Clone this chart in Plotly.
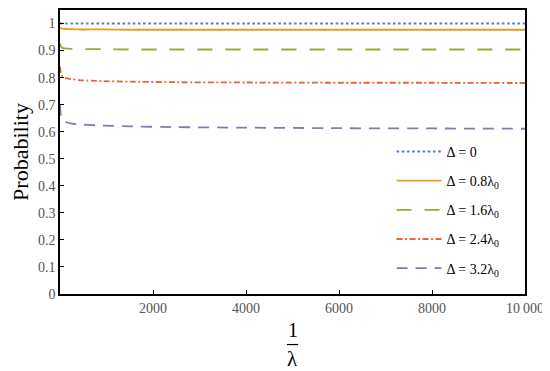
import plotly.graph_objects as go

# inverse lambda values (x axis)
inv_lambda = [1, 20, 50, 100, 150, 250, 400, 600, 900, 1500, 2500, 4000, 6000, 8000, 10000]

p_d0 = [1.0] * 15
p_d08 = [0.985, 0.983, 0.981, 0.980, 0.979, 0.979, 0.978, 0.978, 0.978, 0.977, 0.977, 0.977, 0.977, 0.977, 0.977]
p_d16 = [0.925, 0.915, 0.910, 0.908, 0.907, 0.906, 0.905, 0.905, 0.905, 0.904, 0.904, 0.904, 0.904, 0.904, 0.904]
p_d24 = [0.840, 0.815, 0.805, 0.800, 0.797, 0.794, 0.791, 0.789, 0.787, 0.785, 0.783, 0.782, 0.781, 0.781, 0.780]
p_d32 = [0.700, 0.660, 0.645, 0.638, 0.634, 0.630, 0.627, 0.625, 0.623, 0.620, 0.617, 0.615, 0.613, 0.612, 0.611]

series_names = ["Δ = 0", "Δ = 0.8λ<sub>0</sub>", "Δ = 1.6λ<sub>0</sub>",
                "Δ = 2.4λ<sub>0</sub>", "Δ = 3.2λ<sub>0</sub>"]
series_vals = [p_d0, p_d08, p_d16, p_d24, p_d32]
colors = ["#4F7BC7", "#E19C24", "#8FB032", "#EB6235", "#8778B3"]
widths = [2.0, 1.8, 1.8, 1.8, 1.8]
dashes = ["2.6px,2.6px", "solid", "15px,13px", "6px,2.5px,2px,2.5px", "11px,8px"]

y_ticks = [0, 0.1, 0.2, 0.3, 0.4, 0.5, 0.6, 0.7, 0.8, 0.9, 1.0]
y_ticktext = ["0", "0.1", "0.2", "0.3", "0.4", "0.5", "0.6", "0.7", "0.8", "0.9", "1"]
x_ticks = [2000, 4000, 6000, 8000, 10000]
x_ticktext = ["2000", "4000", "6000", "8000", "10\u2009000"]

SERIF = "Liberation Serif"

fig = go.Figure()
for i, (name, vals) in enumerate(zip(series_names, series_vals)):
    fig.add_trace(go.Scatter(
        x=inv_lambda, y=vals, mode="lines", name=name,
        line=dict(color=colors[i], width=widths[i], dash=dashes[i], shape="spline", smoothing=0.6),
        legendgroup=str(i),
    ))

# the page body has an 8px margin, so the figure is 8px smaller and margins compensate
fig.update_layout(
    width=542, height=363,
    margin=dict(l=52, r=25, t=0, b=77),
    paper_bgcolor="white", plot_bgcolor="white",
    font=dict(family=SERIF, size=13, color="#555555"),
    showlegend=True,
    legend=dict(
        x=0.713, y=0.557, xanchor="left", yanchor="top",
        bgcolor="rgba(0,0,0,0)", traceorder="grouped", tracegroupgap=8,
        font=dict(family=SERIF, size=14, color="black"),
        itemwidth=45,
    ),
    xaxis=dict(
        range=[0, 10000], tickvals=x_ticks, ticktext=x_ticktext,
        showgrid=False, zeroline=False, showline=True, linecolor="black", linewidth=1.5,
        mirror=True, ticks="inside", ticklen=4, tickcolor="black", tickwidth=1.2,
        tickfont=dict(family=SERIF, size=14, color="#555555"),
    ),
    yaxis=dict(
        range=[0, 1.05], tickvals=y_ticks, ticktext=y_ticktext,
        showgrid=False, zeroline=False, showline=True, linecolor="black", linewidth=1.5,
        mirror=True, ticks="inside", ticklen=4, tickcolor="black", tickwidth=1.2,
        tickfont=dict(family=SERIF, size=14, color="#555555"),
        title=dict(text="Probability", font=dict(family=SERIF, size=22, color="black"), standoff=12),
    ),
)

# x-axis label as a stacked fraction 1/λ
fig.add_annotation(x=0.5, y=-0.126, xref="paper", yref="paper", text="1", showarrow=False,
                   font=dict(family=SERIF, size=20, color="black"), yanchor="middle")
fig.add_shape(type="line", xref="paper", yref="paper", x0=0.488, x1=0.512,
              y0=-0.178, y1=-0.178, line=dict(color="black", width=1.2))
fig.add_annotation(x=0.5, y=-0.228, xref="paper", yref="paper", text="λ", showarrow=False,
                   font=dict(family=SERIF, size=21, color="black"), yanchor="middle")

fig.write_html("out.html")
